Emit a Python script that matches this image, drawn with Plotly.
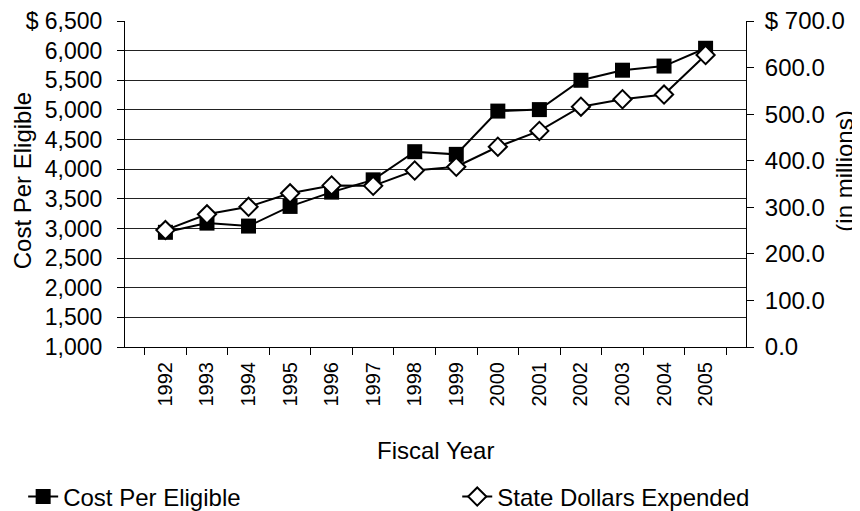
import plotly.graph_objects as go

years = ['1992', '1993', '1994', '1995', '1996', '1997', '1998',
         '1999', '2000', '2001', '2002', '2003', '2004', '2005']
cost_per_eligible = [2935, 3090, 3040, 3372, 3613, 3820, 4295,
                     4250, 4980, 5005, 5500, 5670, 5740, 6040]
state_dollars = [251, 285, 301, 330, 347, 346, 379,
                 387, 430, 464, 516, 532, 542, 627]

left_ticks = list(range(1000, 6501, 500))
left_text = [f"{v:,}" for v in left_ticks]
left_text[-1] = "$ " + left_text[-1]
right_ticks = list(range(0, 701, 100))
right_text = [f"{v:.1f}" for v in right_ticks]
right_text[-1] = "$ " + right_text[-1]

font = "Liberation Sans, Arial, sans-serif"
fs = 24

fig = go.Figure()
fig.add_trace(go.Scatter(
    x=years, y=cost_per_eligible, name="Cost Per Eligible",
    mode="lines+markers", legend="legend",
    line=dict(color="black", width=2),
    marker=dict(symbol="square", size=15, color="black"),
))
fig.add_trace(go.Scatter(
    x=years, y=state_dollars, name="State Dollars Expended", yaxis="y2",
    mode="lines+markers", legend="legend2",
    line=dict(color="black", width=2),
    marker=dict(symbol="diamond", size=14, color="white",
                line=dict(color="black", width=2)),
))

# page body has an 8px margin, so the figure is shrunk by 8px on the top/left
fig.update_layout(
    width=852, height=503,
    margin=dict(l=117, r=114, t=13, b=164, autoexpand=False),
    paper_bgcolor="white", plot_bgcolor="white",
    font=dict(family=font, size=fs, color="black"),
    showlegend=True,
    legend=dict(x=-0.164, y=-0.46, xanchor="left", yanchor="middle",
                font=dict(size=fs), bgcolor="rgba(0,0,0,0)"),
    legend2=dict(x=0.535, y=-0.46, xanchor="left", yanchor="middle",
                 font=dict(size=fs), bgcolor="rgba(0,0,0,0)"),
    xaxis=dict(
        type="category", categoryorder="array", categoryarray=years,
        tickangle=-90, ticks="outside", ticklen=7, tickson="boundaries",
        tickcolor="black", showline=True, linecolor="black", linewidth=1,
        showgrid=False, tickfont=dict(size=20), automargin=False,
        ticklabelstandoff=6,
    ),
    yaxis=dict(
        range=[1000, 6500.01], tickvals=left_ticks, ticktext=left_text,
        ticks="outside", ticklen=7, tickcolor="black", ticklabelstandoff=10,
        tickfont=dict(size=23), ticklabeloverflow="allow",
        showline=True, linecolor="black", linewidth=1, automargin=False,
        showgrid=True, gridcolor="#222", gridwidth=1, zeroline=False,
    ),
    yaxis2=dict(
        overlaying="y", side="right",
        range=[0, 700.001], tickvals=right_ticks, ticktext=right_text,
        ticks="outside", ticklen=7, tickcolor="black", automargin=False,
        ticklabelstandoff=6, ticklabeloverflow="allow",
        showline=True, linecolor="black", linewidth=1,
        showgrid=False, zeroline=False,
    ),
    annotations=[
        dict(text="Cost Per Eligible", textangle=-90, xref="paper", yref="paper",
             x=-0.165, y=0.51, xanchor="center", yanchor="middle",
             showarrow=False, font=dict(size=fs)),
        dict(text="(in millions)", textangle=-90, xref="paper", yref="paper",
             x=1.159, y=0.54, xanchor="center", yanchor="middle",
             showarrow=False, font=dict(size=fs)),
        dict(text="Fiscal Year", xref="paper", yref="paper",
             x=0.5, y=-0.319, xanchor="center", yanchor="middle",
             showarrow=False, font=dict(size=fs)),
    ],
)

fig.write_html("out.html")
